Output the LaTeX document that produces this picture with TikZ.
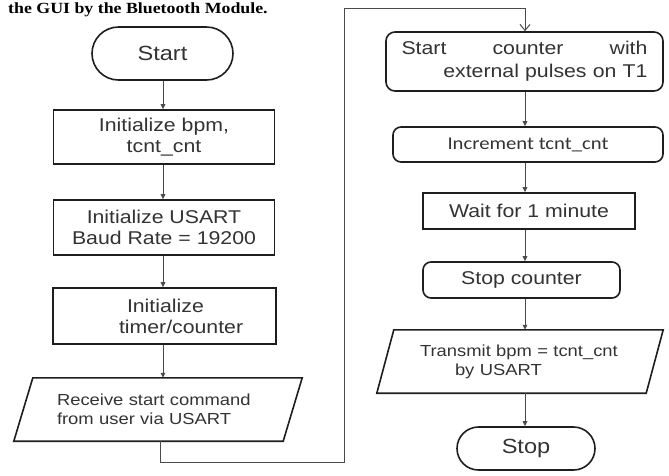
\documentclass[tikz,border=0pt]{standalone}
\usepackage{fontspec}
\setmainfont[FakeStretch=1.15]{Liberation Sans}
\newfontfamily\calib[FakeStretch=1.15]{Carlito}
\newfontfamily\capserif[FakeStretch=1.15]{Liberation Serif}
\usetikzlibrary{arrows.meta,calc}
\definecolor{ink}{HTML}{1E1E1E}
\definecolor{txt}{HTML}{333333}
\definecolor{wire}{HTML}{4A4A4A}
\tikzset{
  base/.style={draw=ink, line width=1.6pt, inner sep=0pt, align=center, text=txt,
    font=\fontsize{18.5}{21}\selectfont},
  procbox/.style={base, rectangle},
  roundbox/.style={base, rectangle, rounded corners=8pt},
  iobox/.style={inner sep=0pt, text=txt, align=left, font=\fontsize{16}{19}\selectfont},
  ioline/.style={draw=ink, line width=1.6pt},
  flow/.style={draw=wire, line width=1pt, -{Triangle[length=5pt,width=4.5pt]}},
  loopline/.style={draw=wire, line width=1pt, -{Straight Barb[length=6pt,width=10pt]}},
}
\begin{document}
\begin{tikzpicture}[x=1pt,y=-1pt]
\useasboundingbox (0,0) rectangle (669,475);
\fill[white] (0,0) rectangle (669,475);

% caption line at the top
\node[anchor=base west, inner sep=0pt, text=black, font=\capserif\bfseries\fontsize{15.5}{18}\selectfont]
  (caption) at (8,13) {the GUI by the Bluetooth Module.};

% left column
\node[base, minimum width=141pt, minimum height=53pt, rounded corners=26.5pt,
  font=\fontsize{20.5}{24}\selectfont] (start) at (162.5,53.5) {Start};
\node[procbox, minimum width=221pt, minimum height=54pt] (init1) at (164,137)
  {Initialize bpm,\\tcnt\_cnt};
\node[procbox, minimum width=221pt, minimum height=55pt] (init2) at (164,227.5)
  {Initialize USART\\Baud Rate = 19200};
\node[procbox, minimum width=223pt, minimum height=56pt, text width=161pt, align=left] (init3) at (164.5,316)
  {\hspace*{43pt}Initialize\\\hspace*{35pt}timer/counter};
\node[iobox, minimum width=269pt, minimum height=63pt, text width=202pt] (recv) at (158,409.5)
  {Receive start command\\from user via USART};
\draw[ioline] ($(recv.north west)+(9.5,0)$) -- ($(recv.north east)+(9.5,0)$)
  -- ($(recv.south east)+(-9.5,0)$) -- ($(recv.south west)+(-9.5,0)$) -- cycle;

% right column
\node[roundbox, minimum width=277pt, minimum height=59pt, rounded corners=9pt,
  text width=246pt, align=right, font=\fontsize{18.5}{23}\selectfont] (cnt) at (524.5,61.5)
  {\makebox[246pt][l]{Start\hfill counter\hfill with}\\external pulses on T1};
\node[roundbox, minimum width=270pt, minimum height=35pt, font=\calib\fontsize{18}{21}\selectfont]
  (incr) at (528,144.5) {Increment tcnt\_cnt};
\node[procbox, minimum width=212pt, minimum height=36pt] (wait) at (529,211) {Wait for 1 minute};
\node[roundbox, minimum width=197pt, minimum height=36pt] (stopc) at (521.5,280) {Stop counter};
\node[iobox, minimum width=269pt, minimum height=63pt, text width=200pt] (tx) at (520,361.5)
  {Transmit bpm = tcnt\_cnt\\\hspace*{35pt}by USART};
\draw[ioline] ($(tx.north west)+(8.5,0)$) -- ($(tx.north east)+(8.5,0)$)
  -- ($(tx.south east)+(-8.5,0)$) -- ($(tx.south west)+(-8.5,0)$) -- cycle;
\node[base, minimum width=138pt, minimum height=43pt, rounded corners=21.5pt,
  font=\fontsize{20.5}{24}\selectfont] (stop) at (526,448.5) {Stop};

% column guides
\coordinate (lc) at (163,0);
\coordinate (rc) at (525,0);

% left connectors
\draw[flow] (start.south -| lc) -- (init1.north -| lc);
\draw[flow] (init1.south -| lc) -- (init2.north -| lc);
\draw[flow] (init2.south -| lc) -- (init3.north -| lc);
\draw[flow] (init3.south -| lc) -- (recv.north -| lc);

% loop over to the right column
\coordinate (l1) at (160,462);
\coordinate (l2) at (344,462);
\coordinate (l3) at (344,8);
\coordinate (l4) at (525,8);
\draw[loopline] (recv.south -| l1) -- (l1) -- (l2) -- (l3) -- (l4) -- (cnt.north -| l4);

% right connectors
\draw[flow] (cnt.south -| rc) -- (incr.north -| rc);
\draw[flow] (incr.south -| rc) -- (wait.north -| rc);
\draw[flow] (wait.south -| rc) -- (stopc.north -| rc);
\draw[flow] (stopc.south -| rc) -- (tx.north -| rc);
\draw[flow] (tx.south -| rc) -- (stop.north -| rc);
\end{tikzpicture}
\end{document}
